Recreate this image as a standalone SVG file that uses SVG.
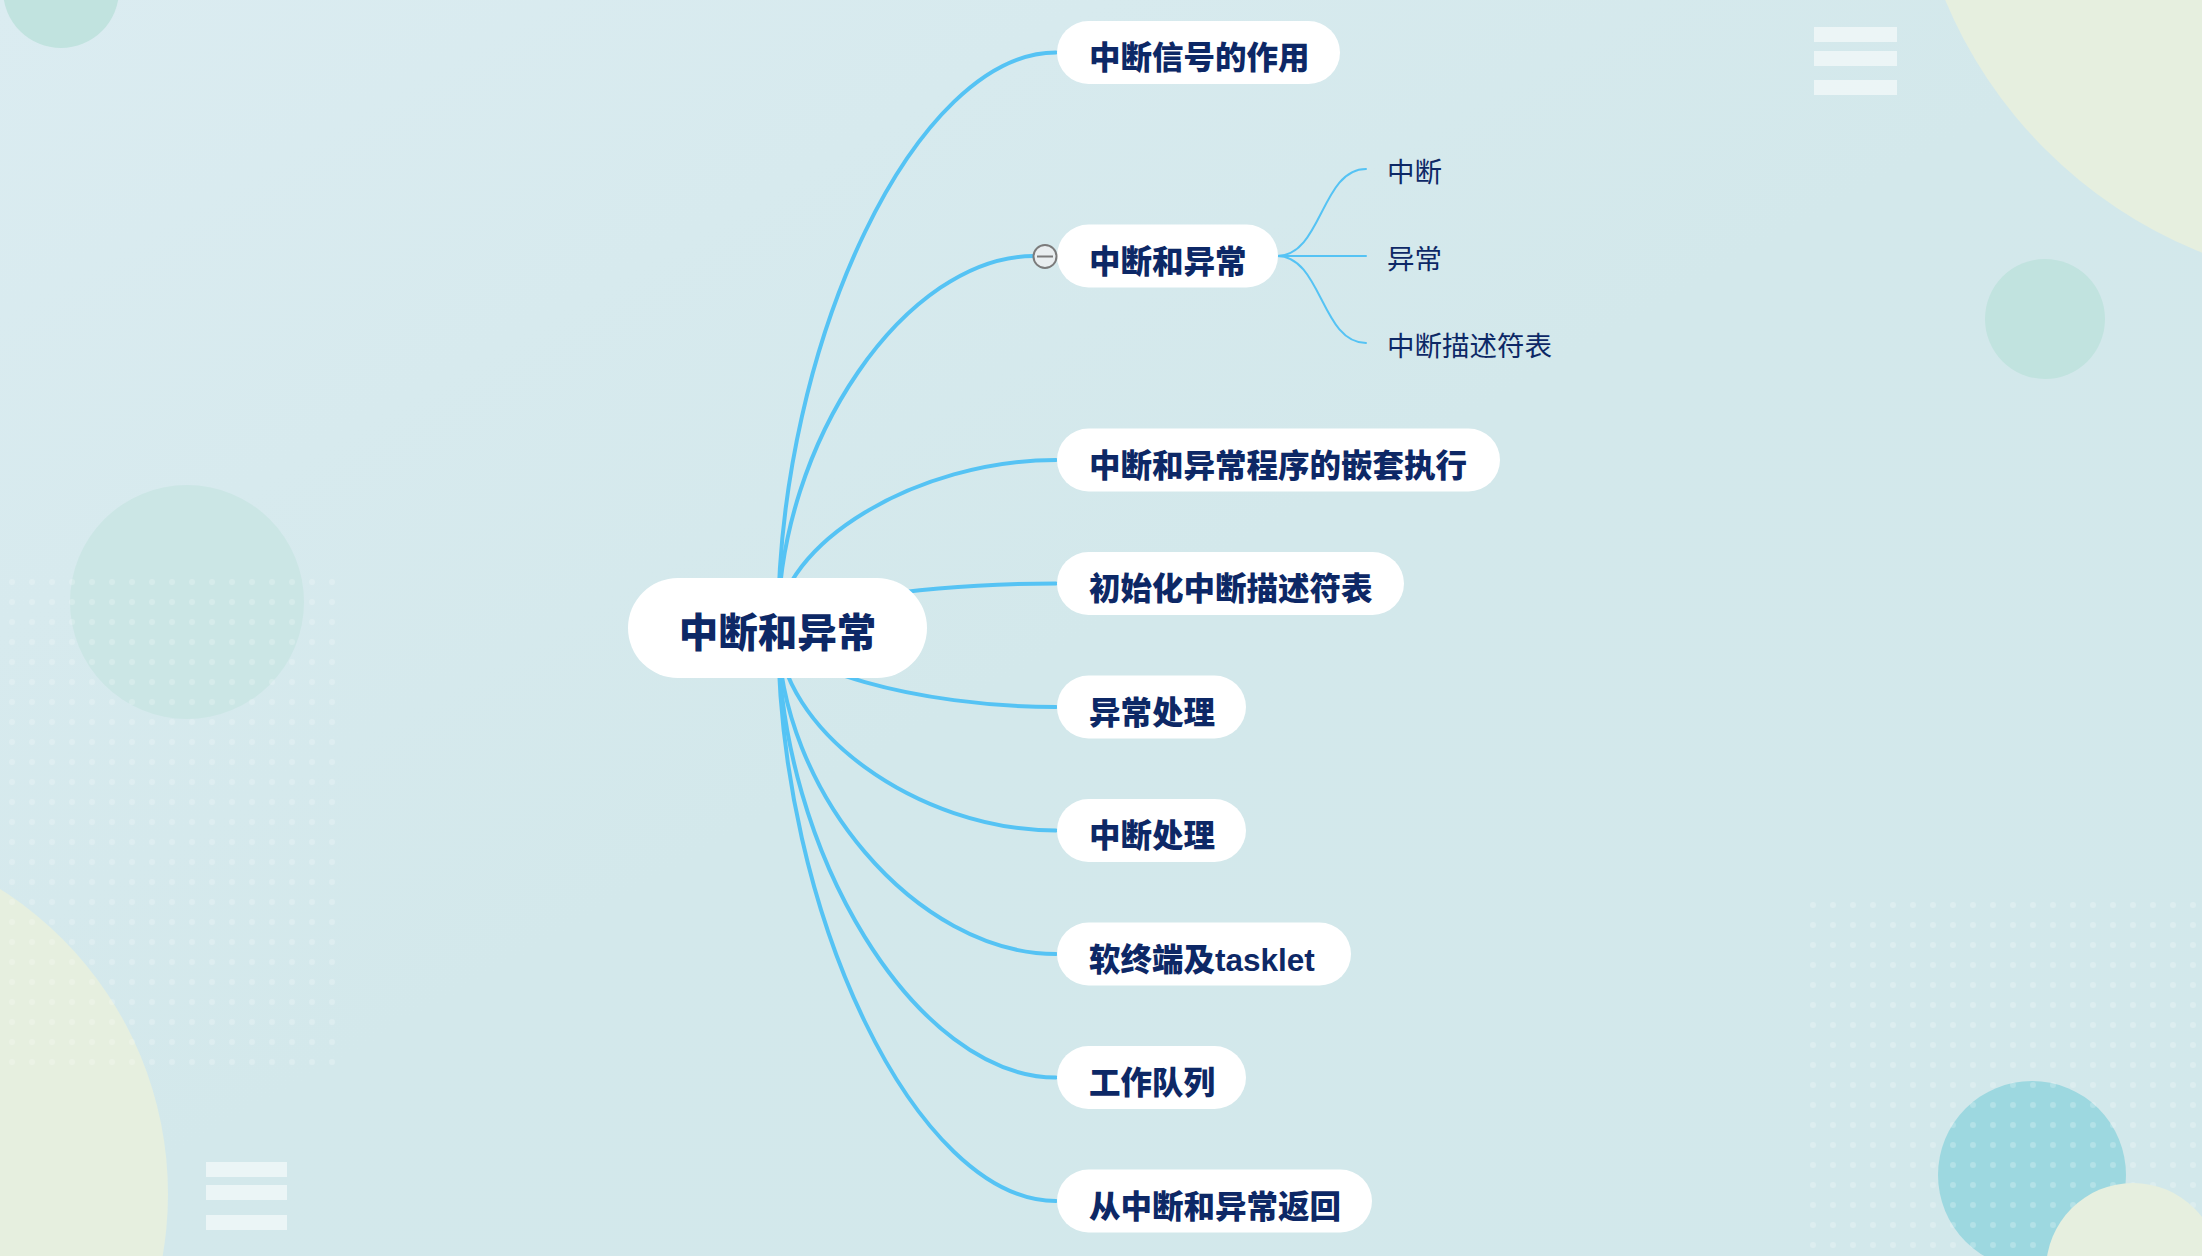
<svg xmlns="http://www.w3.org/2000/svg" width="2202" height="1256" viewBox="0 0 2202 1256">
  <defs>
    <linearGradient id="bg" x1="0" y1="0" x2="1" y2="1">
      <stop offset="0" stop-color="#dbecf1"/>
      <stop offset="0.5" stop-color="#d3e8eb"/>
      <stop offset="1" stop-color="#d2e8eb"/>
    </linearGradient>
    <pattern id="dotsL" patternUnits="userSpaceOnUse" x="2" y="572" width="20" height="20">
      <circle cx="10" cy="10" r="3" fill="#ffffff" fill-opacity="0.2"/>
    </pattern>
    <pattern id="dotsR" patternUnits="userSpaceOnUse" x="1803" y="895" width="20" height="20">
      <circle cx="10" cy="10" r="3" fill="#ffffff" fill-opacity="0.22"/>
    </pattern>
    <style>
      .node rect { fill: #ffffff; }
      .t1 { font-family: "Liberation Sans", "Noto Sans CJK SC", sans-serif; font-weight: 900; font-size: 31.5px; fill: #0d2866; }
      .t0 { font-family: "Liberation Sans", "Noto Sans CJK SC", sans-serif; font-weight: 900; font-size: 39.5px; fill: #0d2866; }
      .t2 { font-family: "Liberation Sans", "Noto Sans CJK SC", sans-serif; font-weight: 400; font-size: 27.5px; fill: #0d2866; }
      .main { fill: none; stroke: #55c3f4; stroke-width: 4; stroke-linecap: round; }
      .sub { fill: none; stroke: #55c3f4; stroke-width: 2; stroke-linecap: round; }
      .bar { fill: #ffffff; fill-opacity: 0.55; }
    </style>
  </defs>

  <!-- background -->
  <rect x="0" y="0" width="2202" height="1256" fill="url(#bg)"/>
  <g id="decor">
    <circle cx="61" cy="-10" r="58" fill="#c1e3df"/>
    <circle cx="2375" cy="-180" r="466" fill="#e6efdf"/>
    <rect class="bar" x="1814" y="27" width="83" height="15"/>
    <rect class="bar" x="1814" y="51" width="83" height="15"/>
    <rect class="bar" x="1814" y="80" width="83" height="15"/>
    <circle cx="2045" cy="319" r="60" fill="#c1e3df"/>
    <circle cx="187" cy="602" r="117" fill="#cbe6e5"/>
    <circle cx="-193" cy="1194" r="361" fill="#e6efdf"/>
    <rect x="2" y="572" width="340" height="500" fill="url(#dotsL)"/>
    <rect class="bar" x="206" y="1162" width="81" height="15"/>
    <rect class="bar" x="206" y="1185" width="81" height="15"/>
    <rect class="bar" x="206" y="1215" width="81" height="15"/>
    <circle cx="2032" cy="1175" r="94" fill="#9dd8e0"/>
    <rect x="1803" y="895" width="399" height="361" fill="url(#dotsR)"/>
    <circle cx="2133" cy="1270" r="87" fill="#e6efdf"/>
  </g>

  <!-- connectors -->
  <g id="connectors">
    <path class="main" d="M778 628 C778 340 917 52.5 1056 52.5"/>
    <path class="main" d="M778 628 C778 442 906 256 1034 256"/>
    <path class="main" d="M778 628 C778 544 917 460 1056 460"/>
    <path class="main" d="M778 628 C778 606 917 583.5 1056 583.5"/>
    <path class="main" d="M778 628 C778 667 917 707 1056 707"/>
    <path class="main" d="M778 628 C778 729 917 830.5 1056 830.5"/>
    <path class="main" d="M778 628 C778 791 917 954 1056 954"/>
    <path class="main" d="M778 628 C778 853 917 1077.5 1056 1077.5"/>
    <path class="main" d="M778 628 C778 914 917 1201 1056 1201"/>
    <path class="sub" d="M1277 256 C1322 256 1321 169 1366 169"/>
    <path class="sub" d="M1277 256 L1366 256"/>
    <path class="sub" d="M1277 256 C1322 256 1321 343 1366 343"/>
  </g>

  <!-- nodes -->
  <g id="root" class="node">
    <rect x="628" y="578" width="299" height="100" rx="50"/>
    <text class="t0" x="777.5" y="647" text-anchor="middle">中断和异常</text>
  </g>
  <g id="n1" class="node">
    <rect x="1057" y="21" width="283" height="63" rx="31.5"/>
    <text class="t1" x="1089" y="69">中断信号的作用</text>
  </g>
  <g id="n2" class="node">
    <rect x="1057" y="224.5" width="221" height="63" rx="31.5"/>
    <text class="t1" x="1089" y="272.5">中断和异常</text>
  </g>
  <g id="n2-toggle">
    <circle cx="1045" cy="256.5" r="11.5" fill="#e9eef0" stroke="#7b7b7b" stroke-width="2"/>
    <line x1="1037" y1="256.5" x2="1053" y2="256.5" stroke="#7b7b7b" stroke-width="2"/>
  </g>
  <g id="n3" class="node">
    <rect x="1057" y="428.5" width="443" height="63" rx="31.5"/>
    <text class="t1" x="1089" y="476.5">中断和异常程序的嵌套执行</text>
  </g>
  <g id="n4" class="node">
    <rect x="1057" y="552" width="347" height="63" rx="31.5"/>
    <text class="t1" x="1089" y="600">初始化中断描述符表</text>
  </g>
  <g id="n5" class="node">
    <rect x="1057" y="675.5" width="189" height="63" rx="31.5"/>
    <text class="t1" x="1089" y="723.5">异常处理</text>
  </g>
  <g id="n6" class="node">
    <rect x="1057" y="799" width="189" height="63" rx="31.5"/>
    <text class="t1" x="1089" y="847">中断处理</text>
  </g>
  <g id="n7" class="node">
    <rect x="1057" y="922.5" width="294" height="63" rx="31.5"/>
    <text class="t1" x="1089" y="970.5">软终端及tasklet</text>
  </g>
  <g id="n8" class="node">
    <rect x="1057" y="1046" width="189" height="63" rx="31.5"/>
    <text class="t1" x="1089" y="1094">工作队列</text>
  </g>
  <g id="n9" class="node">
    <rect x="1057" y="1169.5" width="315" height="63" rx="31.5"/>
    <text class="t1" x="1089" y="1217.5">从中断和异常返回</text>
  </g>
  <g id="c1">
    <text class="t2" x="1387" y="182">中断</text>
  </g>
  <g id="c2">
    <text class="t2" x="1387" y="269">异常</text>
  </g>
  <g id="c3">
    <text class="t2" x="1387" y="356">中断描述符表</text>
  </g>
</svg>
